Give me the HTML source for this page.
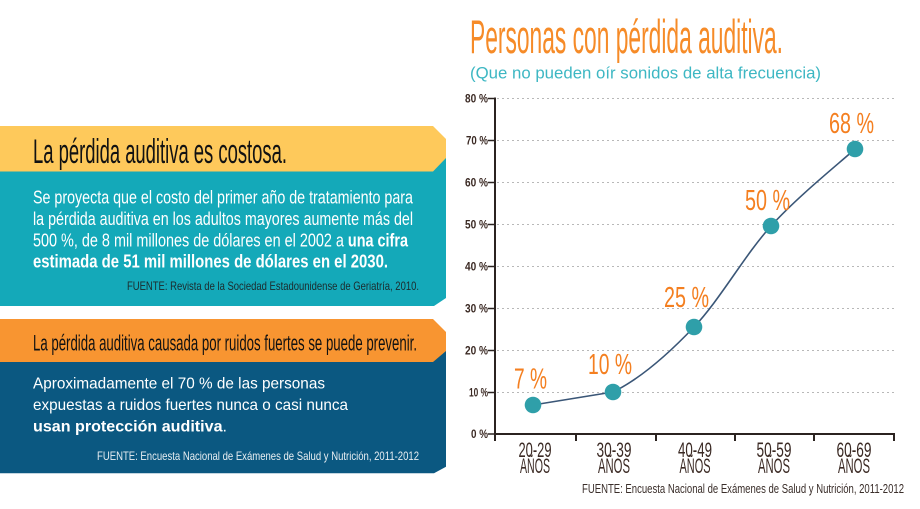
<!DOCTYPE html>
<html>
<head>
<meta charset="utf-8">
<style>
  html,body{margin:0;padding:0;background:#ffffff;}
  svg{display:block;}
  text{font-family:"Liberation Sans", sans-serif;}
</style>
</head>
<body>
<svg width="920" height="509" viewBox="0 0 920 509" xmlns="http://www.w3.org/2000/svg">
  <rect x="0" y="0" width="920" height="509" fill="#ffffff"/>

  <!-- Left panel 1 -->
  <polygon points="0,158 446,158 446,298 434,306 0,306" fill="#14A9B9"/>
  <polygon points="0,126 433,126 446,139 446,158 433,171.5 0,171.5" fill="#FEC95B"/>
  <text x="33" y="163" font-size="34" textLength="254" lengthAdjust="spacingAndGlyphs" fill="#121212">La pérdida auditiva es costosa.</text>
  <text x="33" y="203.5" font-size="18" textLength="380" lengthAdjust="spacingAndGlyphs" fill="#ffffff">Se proyecta que el costo del primer año de tratamiento para</text>
  <text x="33" y="225" font-size="18" textLength="380" lengthAdjust="spacingAndGlyphs" fill="#ffffff">la pérdida auditiva en los adultos mayores aumente más del</text>
  <text x="33" y="246.3" font-size="18" textLength="375" lengthAdjust="spacingAndGlyphs" fill="#ffffff">500 %, de 8 mil millones de dólares en el 2002 a <tspan font-weight="bold">una cifra</tspan></text>
  <text x="33" y="267.5" font-size="18" font-weight="bold" textLength="355" lengthAdjust="spacingAndGlyphs" fill="#ffffff">estimada de 51 mil millones de dólares en el 2030.</text>
  <text x="127" y="290" font-size="12" textLength="292" lengthAdjust="spacingAndGlyphs" fill="#1c2a2c">FUENTE: Revista de la Sociedad Estadounidense de Geriatría, 2010.</text>

  <!-- Left panel 2 -->
  <polygon points="0,351 446,351 446,466.7 434,473.3 0,473.3" fill="#0B5881"/>
  <polygon points="0,319 433,319 446,332 446,351 433,362 0,362" fill="#F89531"/>
  <text x="33" y="350.7" font-size="22" textLength="384" lengthAdjust="spacingAndGlyphs" fill="#121212">La pérdida auditiva causada por ruidos fuertes se puede prevenir.</text>
  <text x="33" y="388.7" font-size="16" textLength="292" lengthAdjust="spacingAndGlyphs" fill="#ffffff">Aproximadamente el 70 % de las personas</text>
  <text x="33" y="410" font-size="16" textLength="315" lengthAdjust="spacingAndGlyphs" fill="#ffffff">expuestas a ruidos fuertes nunca o casi nunca</text>
  <text x="33" y="431.7" font-size="16" textLength="194" lengthAdjust="spacingAndGlyphs" fill="#ffffff"><tspan font-weight="bold">usan protección auditiva</tspan>.</text>
  <text x="97" y="460" font-size="12" textLength="322" lengthAdjust="spacingAndGlyphs" fill="#e8eef2">FUENTE: Encuesta Nacional de Exámenes de Salud y Nutrición, 2011-2012</text>

  <!-- Chart title -->
  <text x="470" y="53" font-size="47" textLength="313" lengthAdjust="spacingAndGlyphs" fill="#F68B28">Personas con pérdida auditiva.</text>
  <text x="470" y="78.5" font-size="16.5" textLength="351" lengthAdjust="spacingAndGlyphs" fill="#3DB7C3">(Que no pueden oír sonidos de alta frecuencia)</text>

  <!-- Gridlines -->
  <g stroke="#b8b8b8" stroke-width="1" stroke-dasharray="2,3">
    <line x1="497" y1="98.5" x2="895" y2="98.5"/>
    <line x1="497" y1="140.5" x2="895" y2="140.5"/>
    <line x1="497" y1="182.5" x2="895" y2="182.5"/>
    <line x1="497" y1="224.5" x2="895" y2="224.5"/>
    <line x1="497" y1="266.5" x2="895" y2="266.5"/>
    <line x1="497" y1="308.5" x2="895" y2="308.5"/>
    <line x1="497" y1="350.5" x2="895" y2="350.5"/>
    <line x1="497" y1="392.5" x2="895" y2="392.5"/>
  </g>

  <!-- Axes -->
  <g stroke="#2b2320" stroke-width="2" fill="none">
    <line x1="495" y1="97.5" x2="495" y2="435"/>
    <line x1="494" y1="434" x2="895" y2="434"/>
    <line x1="495" y1="434" x2="495" y2="441"/>
    <line x1="576" y1="434" x2="576" y2="441"/>
    <line x1="656" y1="434" x2="656" y2="441"/>
    <line x1="735" y1="434" x2="735" y2="441"/>
    <line x1="814" y1="434" x2="814" y2="441"/>
    <line x1="894" y1="434" x2="894" y2="441"/>
  </g>
  <g stroke="#2b2320" stroke-width="1.5">
    <line x1="488" y1="98.5" x2="495" y2="98.5"/>
    <line x1="488" y1="140.5" x2="495" y2="140.5"/>
    <line x1="488" y1="182.5" x2="495" y2="182.5"/>
    <line x1="488" y1="224.5" x2="495" y2="224.5"/>
    <line x1="488" y1="266.5" x2="495" y2="266.5"/>
    <line x1="488" y1="308.5" x2="495" y2="308.5"/>
    <line x1="488" y1="350.5" x2="495" y2="350.5"/>
    <line x1="488" y1="392.5" x2="495" y2="392.5"/>
    <line x1="488" y1="434" x2="495" y2="434"/>
  </g>

  <!-- Y labels -->
  <g font-size="12" font-weight="bold" fill="#3B2A24" text-anchor="end">
    <text x="488" y="102.5" textLength="23" lengthAdjust="spacingAndGlyphs">80 %</text>
    <text x="488" y="144.5" textLength="22" lengthAdjust="spacingAndGlyphs">70 %</text>
    <text x="488" y="186.5" textLength="23" lengthAdjust="spacingAndGlyphs">60 %</text>
    <text x="488" y="228.5" textLength="23" lengthAdjust="spacingAndGlyphs">50 %</text>
    <text x="488" y="270.5" textLength="23" lengthAdjust="spacingAndGlyphs">40 %</text>
    <text x="488" y="312.5" textLength="23" lengthAdjust="spacingAndGlyphs">30 %</text>
    <text x="488" y="354.5" textLength="23" lengthAdjust="spacingAndGlyphs">20 %</text>
    <text x="488" y="396.5" textLength="19" lengthAdjust="spacingAndGlyphs">10 %</text>
    <text x="488" y="438" textLength="17" lengthAdjust="spacingAndGlyphs">0 %</text>
  </g>

  <!-- X labels -->
  <g font-size="21" fill="#3B2A24" text-anchor="middle">
    <text x="535" y="457" textLength="33" lengthAdjust="spacingAndGlyphs">20-29</text>
    <text x="535" y="473" textLength="30" lengthAdjust="spacingAndGlyphs">AÑOS</text>
    <text x="614" y="457" textLength="35" lengthAdjust="spacingAndGlyphs">30-39</text>
    <text x="614" y="473" textLength="32" lengthAdjust="spacingAndGlyphs">AÑOS</text>
    <text x="695" y="457" textLength="34" lengthAdjust="spacingAndGlyphs">40-49</text>
    <text x="695" y="473" textLength="31" lengthAdjust="spacingAndGlyphs">AÑOS</text>
    <text x="774" y="457" textLength="35" lengthAdjust="spacingAndGlyphs">50-59</text>
    <text x="774" y="473" textLength="32" lengthAdjust="spacingAndGlyphs">AÑOS</text>
    <text x="854" y="457" textLength="35" lengthAdjust="spacingAndGlyphs">60-69</text>
    <text x="854" y="473" textLength="32" lengthAdjust="spacingAndGlyphs">AÑOS</text>
  </g>

  <!-- Series line -->
  <path d="M533,405 L613,392 C639.8,379 667.7,354.7 694,327 C720.3,299.3 744.2,255.7 771,226 C797.8,196.3 841,161.8 855,149"
        fill="none" stroke="#3A5677" stroke-width="1.6"/>

  <!-- Markers -->
  <g fill="#2F9FA9">
    <circle cx="533" cy="405" r="8.3"/>
    <circle cx="613" cy="392" r="8.3"/>
    <circle cx="694" cy="327" r="8.3"/>
    <circle cx="771" cy="226" r="8.3"/>
    <circle cx="855" cy="149" r="8.3"/>
  </g>

  <!-- Data labels -->
  <g font-size="29" fill="#F47F20">
    <text x="514" y="388.3" textLength="33" lengthAdjust="spacingAndGlyphs">7 %</text>
    <text x="588" y="374" textLength="44" lengthAdjust="spacingAndGlyphs">10 %</text>
    <text x="664" y="307" textLength="45" lengthAdjust="spacingAndGlyphs">25 %</text>
    <text x="745" y="210" textLength="45" lengthAdjust="spacingAndGlyphs">50 %</text>
    <text x="829" y="133" textLength="45" lengthAdjust="spacingAndGlyphs">68 %</text>
  </g>

  <!-- Bottom source -->
  <text x="582" y="493" font-size="12.5" textLength="322" lengthAdjust="spacingAndGlyphs" fill="#3a2e2a">FUENTE: Encuesta Nacional de Exámenes de Salud y Nutrición, 2011-2012</text>
</svg>
</body>
</html>
